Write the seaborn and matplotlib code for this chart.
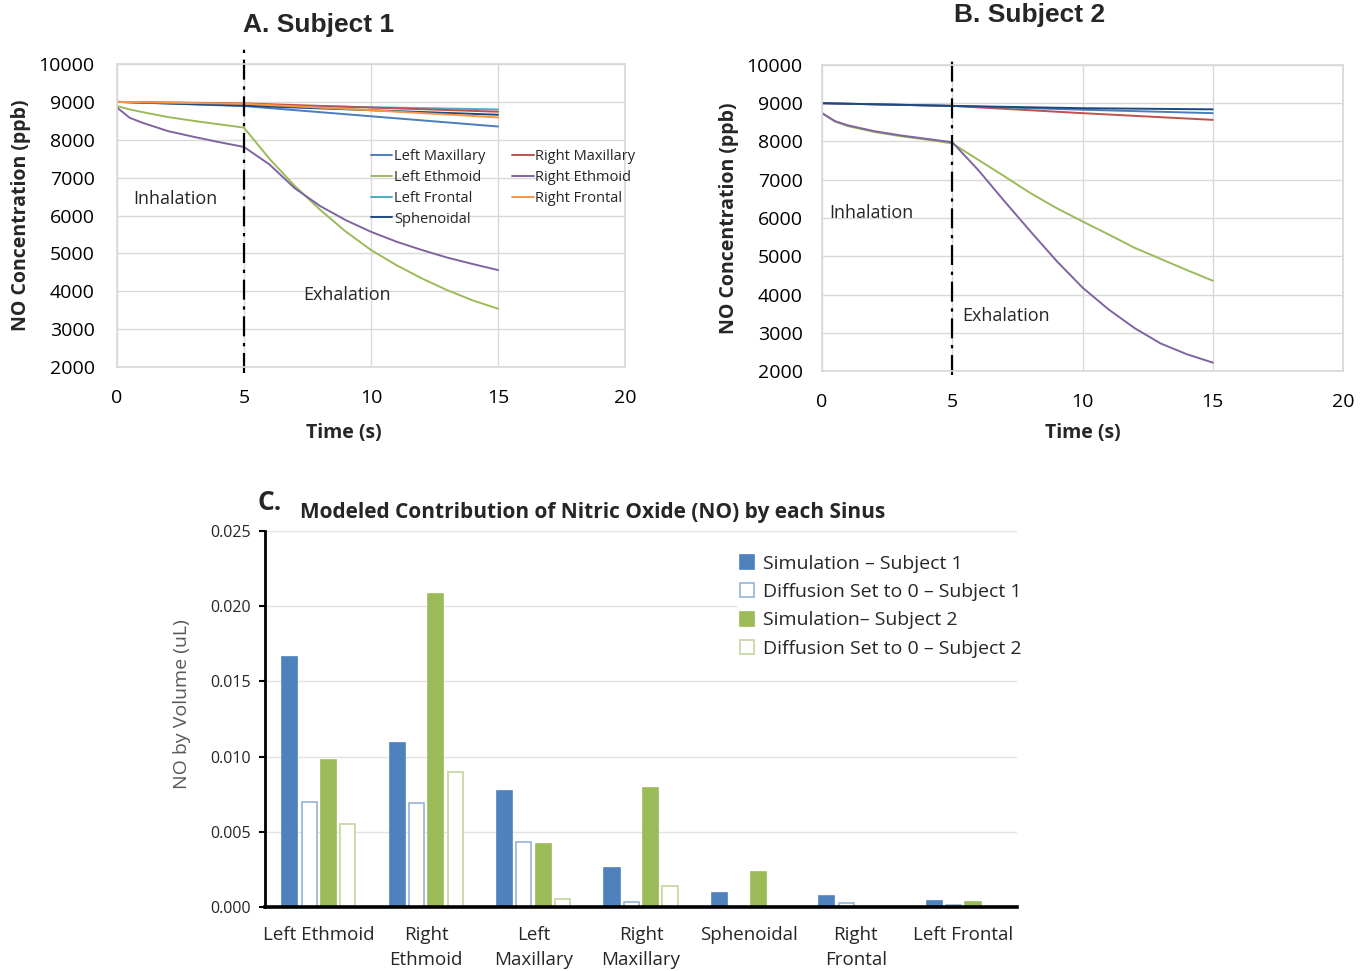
import numpy as np
import pandas as pd
import matplotlib
matplotlib.use("Agg")
import matplotlib.pyplot as plt
from matplotlib.patches import Patch
from matplotlib.lines import Line2D
import seaborn as sns

# === Panel A / B : NO concentration vs time ===
t_curve = [0, 0.5, 1, 2, 3, 4, 5, 6, 7, 8, 9, 10, 11, 12, 13, 14, 15]
t_flat = [0, 5, 10, 15]
switch_time = 5

# Subject 1
s1_left_maxillary = [9000, 8890, 8620, 8350]
s1_right_maxillary = [9000, 8960, 8850, 8740]
s1_left_frontal = [9000, 8920, 8860, 8800]
s1_right_frontal = [9000, 8950, 8780, 8590]
s1_sphenoidal = [9000, 8900, 8780, 8660]
s1_left_ethmoid = [8890, 8800, 8730, 8600, 8500, 8410, 8320, 7500, 6780,
                   6150, 5580, 5090, 4690, 4340, 4030, 3760, 3540]
s1_right_ethmoid = [8850, 8580, 8450, 8230, 8080, 7940, 7810, 7350, 6720,
                    6250, 5880, 5570, 5310, 5090, 4890, 4720, 4560]

# Subject 2
s2_left_maxillary = [9000, 8930, 8830, 8740]
s2_right_maxillary = [9000, 8930, 8740, 8565]
s2_sphenoidal = [9000, 8930, 8870, 8840]
s2_left_ethmoid = [8740, 8520, 8400, 8250, 8140, 8050, 7950, 7520, 7090,
                   6650, 6260, 5910, 5570, 5220, 4930, 4640, 4360]
s2_right_ethmoid = [8740, 8530, 8420, 8270, 8160, 8070, 7980, 7250, 6440,
                    5650, 4880, 4180, 3610, 3120, 2720, 2440, 2220]

line_colors = {
    "Left Maxillary": "#4a7ebb",
    "Left Ethmoid": "#9bbb59",
    "Left Frontal": "#4bacc6",
    "Sphenoidal": "#1f497d",
    "Right Maxillary": "#c0504d",
    "Right Ethmoid": "#8064a2",
    "Right Frontal": "#f79646",
}

# === Panel C : NO by volume per sinus ===
sinuses = ["Left Ethmoid", "Right\nEthmoid", "Left\nMaxillary", "Right\nMaxillary",
           "Sphenoidal", "Right\nFrontal", "Left Frontal"]
sim_subject1 = [0.0166, 0.0109, 0.0077, 0.0026, 0.00095, 0.00073, 0.00038]
diff0_subject1 = [0.0070, 0.0069, 0.0043, 0.00035, 0.0, 0.00024, 0.00013]
sim_subject2 = [0.0098, 0.0208, 0.0042, 0.0079, 0.0023, 0.0, 0.00031]
diff0_subject2 = [0.0055, 0.0090, 0.0005, 0.0014, 0.0, 0.0, 0.0]
bar_series = ["Simulation \u2013 Subject 1", "Diffusion Set to 0 \u2013 Subject 1",
              "Simulation\u2013 Subject 2", "Diffusion Set to 0 \u2013 Subject 2"]


def long_lines(series):
    rows = []
    for name, (t, v) in series.items():
        for ti, vi in zip(t, v):
            rows.append({"time": ti, "conc": vi, "sinus": name})
    return pd.DataFrame(rows)


subj1 = long_lines({
    "Left Maxillary": (t_flat, s1_left_maxillary),
    "Left Ethmoid": (t_curve, s1_left_ethmoid),
    "Left Frontal": (t_flat, s1_left_frontal),
    "Sphenoidal": (t_flat, s1_sphenoidal),
    "Right Maxillary": (t_flat, s1_right_maxillary),
    "Right Ethmoid": (t_curve, s1_right_ethmoid),
    "Right Frontal": (t_flat, s1_right_frontal),
})
subj2 = long_lines({
    "Right Maxillary": (t_flat, s2_right_maxillary),
    "Left Maxillary": (t_flat, s2_left_maxillary),
    "Sphenoidal": (t_flat, s2_sphenoidal),
    "Left Ethmoid": (t_curve, s2_left_ethmoid),
    "Right Ethmoid": (t_curve, s2_right_ethmoid),
})

bars = pd.DataFrame({
    "sinus": sinuses * 4,
    "series": np.repeat(bar_series, len(sinuses)),
    "value": sim_subject1 + diff0_subject1 + sim_subject2 + diff0_subject2,
})

sns.set_theme(style="white")
plt.rcParams["font.family"] = ["Open Sans", "DejaVu Sans"]

fig = plt.figure(figsize=(13.71, 9.71), dpi=100)
ax_a = fig.add_axes([0.0853, 0.622, 0.3706, 0.3121])
ax_b = fig.add_axes([0.5996, 0.6179, 0.38, 0.3152])
ax_c = fig.add_axes([0.1933, 0.0659, 0.5485, 0.3872])

grid_col = "#d9d9d9"


def style_time_axes(ax, ypad, xpad):
    ax.set_xlim(0, 20)
    ax.set_ylim(2000, 10000)
    ax.set_xticks([0, 5, 10, 15, 20])
    ax.set_yticks(range(2000, 10001, 1000))
    ax.grid(True, color=grid_col, lw=1)
    for sp in ax.spines.values():
        sp.set_color(grid_col)
    ax.tick_params(axis="both", length=0, labelsize=14, colors="black")
    ax.tick_params(axis="y", pad=ypad)
    ax.tick_params(axis="x", pad=xpad)
    ax.set_xlabel("Time (s)", fontsize=14, fontweight="bold")
    ax.set_ylabel("NO Concentration (ppb)", fontsize=14, fontweight="bold")


title_font = ["Liberation Sans", "DejaVu Sans"]

# A. Subject 1
sns.lineplot(data=subj1, x="time", y="conc", hue="sinus", palette=line_colors,
             lw=1.4, ax=ax_a, legend=False, estimator=None, sort=False)
style_time_axes(ax_a, 16, 16)
ax_a.xaxis.set_label_coords(0.447, -0.185)
ax_a.yaxis.set_label_coords(-0.17, 0.5)
ax_a.axvline(switch_time, ymin=-0.02, ymax=1.065, color="black", lw=1.6,
             ls=(0, (9, 3, 1.5, 3)), clip_on=False)
ax_a.text(0.63, 6440, "Inhalation", fontsize=13, va="center")
ax_a.text(7.35, 3900, "Exhalation", fontsize=13, va="center")
handles = [Line2D([0], [0], color=c, lw=1.4) for c in line_colors.values()]
fig.legend(handles, list(line_colors.keys()), ncol=2, frameon=False,
           loc="upper left", bbox_to_anchor=(0.265, 0.854),
           fontsize=10.5, handlelength=1.5, handletextpad=0.12,
           columnspacing=1.8, labelspacing=0.4, borderpad=0)
fig.text(0.232, 0.974, "A. Subject 1", fontsize=19, fontweight="bold",
         ha="center", va="center", family=title_font)

# B. Subject 2
sns.lineplot(data=subj2, x="time", y="conc", hue="sinus", palette=line_colors,
             lw=1.4, ax=ax_b, legend=False, estimator=None, sort=False)
style_time_axes(ax_b, 14, 16)
ax_b.xaxis.set_label_coords(0.501, -0.17)
ax_b.yaxis.set_label_coords(-0.16, 0.5)
ax_b.axvline(switch_time, ymin=-0.013, ymax=1.023, color="black", lw=1.6,
             ls=(0, (9, 3, 1.5, 3)), clip_on=False)
ax_b.text(0.27, 6130, "Inhalation", fontsize=13, va="center")
ax_b.text(5.4, 3440, "Exhalation", fontsize=13, va="center")
fig.text(0.751, 0.9846, "B. Subject 2", fontsize=19, fontweight="bold",
         ha="center", va="center", family=title_font)

# C. bars
face = ["#4f81bd", "white", "#9bbb59", "white"]
edge = ["#4f81bd", "#95b3d7", "#9bbb59", "#c3d69b"]
sns.barplot(data=bars, x="sinus", y="value", hue="series", hue_order=bar_series,
            width=0.72, gap=0.22, ax=ax_c, legend=False, errorbar=None)
for cont, fc, ec in zip(ax_c.containers, face, edge):
    for p in cont:
        p.set_facecolor(fc)
        p.set_edgecolor(ec)
        p.set_linewidth(1.2)
ax_c.set_xlim(-0.5, 6.5)
ax_c.set_ylim(0, 0.025)
ax_c.set_yticks(np.arange(0, 0.0251, 0.005))
ax_c.yaxis.set_major_formatter(matplotlib.ticker.FormatStrFormatter("%.3f"))
ax_c.grid(True, axis="y", color="#e3e3e3", lw=1)
ax_c.set_axisbelow(True)
ax_c.spines["top"].set_visible(False)
ax_c.spines["right"].set_visible(False)
ax_c.spines["left"].set_color("black")
ax_c.spines["left"].set_linewidth(2)
ax_c.spines["bottom"].set_color("black")
ax_c.spines["bottom"].set_linewidth(2.6)
ax_c.tick_params(axis="y", length=4, width=1.5, color="black", labelsize=11.5,
                 left=True, pad=6)
ax_c.tick_params(axis="x", length=0, labelsize=13.5, pad=14)
for lab in ax_c.get_xticklabels():
    lab.set_linespacing(1.45)
ax_c.set_xlabel("")
ax_c.set_ylabel("NO by Volume (uL)", fontsize=14, color="#595959")
ax_c.yaxis.set_label_coords(-0.098, 0.54)
leg_handles = [Patch(facecolor=fc, edgecolor=ec, lw=1.2) for fc, ec in zip(face, edge)]
leg = ax_c.legend(leg_handles, bar_series, loc="upper left",
                  bbox_to_anchor=(0.531, 0.4406), bbox_transform=fig.transFigure,
                  fontsize=14, handlelength=0.75, handleheight=0.75,
                  handletextpad=0.45, labelspacing=0.53, borderpad=0.1,
                  frameon=True, framealpha=1, facecolor="white", edgecolor="none")
fig.text(0.188, 0.482, "C.", fontsize=19, fontweight="bold", va="center")
fig.text(0.219, 0.4717, "Modeled Contribution of Nitric Oxide (NO) by each Sinus",
         fontsize=15, fontweight="bold", va="center")

plt.savefig("out.png", dpi=100)
